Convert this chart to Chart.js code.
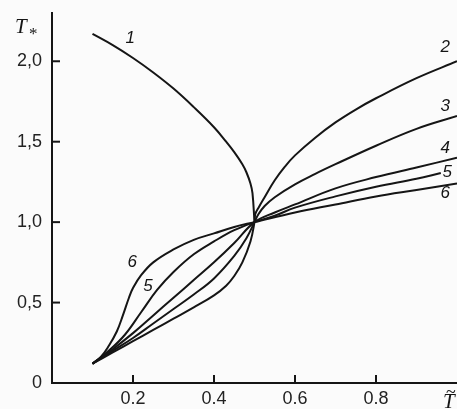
<!DOCTYPE html>
<html>
<head>
<meta charset="utf-8">
<script src="https://cdn.jsdelivr.net/npm/chart.js@4.4.1/dist/chart.umd.min.js"></script>
<style>
    html, body { margin: 0; padding: 0; background: #fbfbfb; }
    #contenedor { width: 457px; height: 409px; }
</style>
</head>
<body>
<div id="contenedor"><canvas id="myChart"></canvas></div>
<script>
// valores (eje x = T~, eje y = T*)
var curva1X = [0.10, 0.15, 0.20, 0.25, 0.30, 0.35, 0.40, 0.43, 0.45, 0.47, 0.48, 0.49, 0.495, 0.50];
var curva1Y = [2.17, 2.10, 2.02, 1.93, 1.83, 1.715, 1.59, 1.50, 1.435, 1.36, 1.31, 1.24, 1.18, 1.00];

var curva2X = [0.10, 0.15, 0.20, 0.25, 0.30, 0.35, 0.40, 0.43, 0.45, 0.47, 0.49, 0.50, 0.502, 0.51, 0.525, 0.55, 0.575, 0.60, 0.65, 0.70, 0.75, 0.80, 0.90, 1.00];
var curva2Y = [0.12, 0.19, 0.26, 0.33, 0.40, 0.47, 0.545, 0.605, 0.665, 0.75, 0.88, 1.00, 1.05, 1.09, 1.155, 1.26, 1.345, 1.415, 1.525, 1.62, 1.70, 1.77, 1.895, 2.00];

var curva3X = [0.10, 0.15, 0.20, 0.25, 0.30, 0.35, 0.40, 0.45, 0.48, 0.50, 0.51, 0.525, 0.55, 0.60, 0.65, 0.70, 0.80, 0.90, 1.00];
var curva3Y = [0.12, 0.20, 0.28, 0.37, 0.46, 0.55, 0.65, 0.79, 0.90, 1.00, 1.05, 1.10, 1.155, 1.235, 1.30, 1.36, 1.475, 1.58, 1.66];

var curva4X = [0.10, 0.15, 0.20, 0.25, 0.30, 0.35, 0.40, 0.45, 0.50, 0.55, 0.60, 0.70, 0.80, 0.90, 1.00];
var curva4Y = [0.12, 0.21, 0.31, 0.42, 0.53, 0.64, 0.75, 0.87, 1.00, 1.06, 1.11, 1.21, 1.28, 1.34, 1.40];

var curva5X = [0.10, 0.14, 0.18, 0.22, 0.26, 0.30, 0.35, 0.40, 0.45, 0.50, 0.55, 0.60, 0.70, 0.80, 0.90, 0.96];
var curva5Y = [0.12, 0.20, 0.30, 0.44, 0.58, 0.69, 0.80, 0.88, 0.95, 1.00, 1.04, 1.09, 1.16, 1.22, 1.27, 1.305];

var curva6X = [0.10, 0.12, 0.14, 0.16, 0.175, 0.19, 0.20, 0.22, 0.25, 0.30, 0.35, 0.40, 0.45, 0.50, 0.60, 0.70, 0.80, 0.90, 1.00];
var curva6Y = [0.12, 0.16, 0.23, 0.32, 0.42, 0.53, 0.59, 0.67, 0.75, 0.83, 0.89, 0.93, 0.97, 1.00, 1.06, 1.11, 1.16, 1.20, 1.24];

var ticksX = [0.2, 0.4, 0.6, 0.8];
var ticksY = [0, 0.5, 1.0, 1.5, 2.0];
var etiquetasY = ['0', '0,5', '1,0', '1,5', '2,0'];

function armarPuntos(xs, ys) {
    var puntos = [];
    for (var i = 0; i < xs.length; i++) {
        puntos.push({ x: xs[i], y: ys[i] });
    }
    return puntos;
}

var tinta = '#151515';

function serie(xs, ys) {
    return {
        data: armarPuntos(xs, ys),
        borderColor: tinta,
        borderWidth: 2,
        pointRadius: 0,
        fill: false,
        tension: 0.4
    };
}

// marcas hacia adentro, numeros de curva y titulos de ejes
var extras = {
    id: 'extras',
    afterDraw: function (chart) {
        var ctx = chart.ctx;
        var sx = chart.scales.x;
        var sy = chart.scales.y;
        var area = chart.chartArea;
        ctx.save();
        ctx.strokeStyle = tinta;
        ctx.lineWidth = 2;
        ticksX.forEach(function (v) {
            var px = sx.getPixelForValue(v);
            ctx.beginPath();
            ctx.moveTo(px, area.bottom);
            ctx.lineTo(px, area.bottom - 8);
            ctx.stroke();
        });
        ticksY.forEach(function (v) {
            if (v === 0) return;
            var py = sy.getPixelForValue(v);
            ctx.beginPath();
            ctx.moveTo(area.left, py);
            ctx.lineTo(area.left + 8, py);
            ctx.stroke();
        });

        ctx.fillStyle = tinta;
        ctx.font = 'italic 17px "Liberation Sans"';
        ctx.textAlign = 'center';
        ctx.textBaseline = 'middle';
        var numeros = [
            ['1', 0.193, 2.14],
            ['2', 0.971, 2.09],
            ['3', 0.971, 1.72],
            ['4', 0.971, 1.46],
            ['5', 0.976, 1.31],
            ['6', 0.971, 1.18],
            ['6', 0.198, 0.75],
            ['5', 0.237, 0.60]
        ];
        numeros.forEach(function (n) {
            ctx.fillText(n[0], sx.getPixelForValue(n[1]), sy.getPixelForValue(n[2]));
        });

        // titulos
        ctx.font = 'italic 21px "Liberation Serif"';
        ctx.textAlign = 'left';
        ctx.textBaseline = 'alphabetic';
        ctx.fillText('T', 15, 33);
        ctx.font = '17px "Liberation Serif"';
        ctx.fillText('*', 29, 39);
        ctx.font = 'italic 21px "Liberation Serif"';
        ctx.fillText('T', 443, 408);
        ctx.font = '18px "Liberation Serif"';
        ctx.fillText('~', 446, 398);
        ctx.restore();
    }
};

var ctx = document.getElementById('myChart');

new Chart(ctx, {
    type: 'line',
    data: {
        datasets: [
            serie(curva1X, curva1Y),
            serie(curva2X, curva2Y),
            serie(curva3X, curva3Y),
            serie(curva4X, curva4Y),
            serie(curva5X, curva5Y),
            serie(curva6X, curva6Y)
        ]
    },
    plugins: [extras],
    options: {
        responsive: true,
        maintainAspectRatio: false,
        animation: false,
        layout: { padding: { top: 13, right: 0, left: 0, bottom: 0 } },
        plugins: {
            legend: { display: false },
            tooltip: { enabled: false }
        },
        scales: {
            x: {
                type: 'linear',
                min: 0,
                max: 1.0,
                afterFit: function (scale) {
                    scale.height = 26;
                    scale.paddingRight = 0;
                },
                afterBuildTicks: function (scale) {
                    scale.ticks = ticksX.map(function (v) { return { value: v }; });
                },
                grid: { display: false, drawTicks: false },
                border: { display: true, color: tinta, width: 2 },
                ticks: {
                    color: '#222',
                    font: { family: 'Liberation Sans', size: 18 },
                    padding: 5,
                    maxRotation: 0,
                    callback: function (v) { return v.toFixed(1); }
                }
            },
            y: {
                type: 'linear',
                min: 0,
                max: 2.3,
                afterFit: function (scale) {
                    scale.width = 52;
                    scale.paddingTop = 0;
                    scale.paddingBottom = 0;
                },
                afterBuildTicks: function (scale) {
                    scale.ticks = ticksY.map(function (v) { return { value: v }; });
                },
                grid: { display: false, drawTicks: false },
                border: { display: true, color: tinta, width: 2 },
                ticks: {
                    color: '#222',
                    font: { family: 'Liberation Sans', size: 18 },
                    padding: 10,
                    callback: function (v) {
                        var i = ticksY.indexOf(v);
                        return i >= 0 ? etiquetasY[i] : '';
                    }
                }
            }
        }
    }
});
</script>
</body>
</html>
